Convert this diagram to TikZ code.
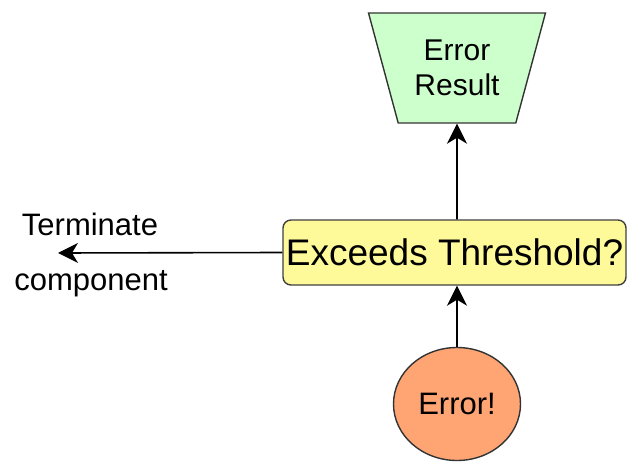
\documentclass[tikz,border=0pt]{standalone}
\usepackage{fontspec}
\setmainfont{Liberation Sans}
\usetikzlibrary{shapes.geometric,arrows.meta}

\tikzset{
  seta/.style={-{Stealth[length=20pt,width=20pt,inset=6pt]}, line width=1.6pt},
  resultado/.style={trapezium, draw=black!80, line width=1.4pt, fill=green!20,
    trapezium stretches=true, shape border rotate=180,
    trapezium left angle=69, trapezium right angle=69,
    minimum width=177pt, minimum height=110pt, align=center,
    font=\fontsize{30}{35}\selectfont, inner sep=0pt},
  decisao/.style={rectangle, rounded corners=8pt, draw=black!75, line width=1.4pt,
    fill=yellow!40, minimum width=343pt, minimum height=65pt,
    font=\fontsize{37}{40}\selectfont, inner sep=0pt},
  erro/.style={ellipse, draw=black!80, line width=1.4pt, fill=orange!70!red!55!white,
    minimum width=127pt, minimum height=113pt, font=\fontsize{31}{34}\selectfont, inner sep=0pt},
  rotulo/.style={font=\fontsize{31}{34}\selectfont, inner sep=0pt, anchor=base}
}

\begin{document}
\begin{tikzpicture}[x=1pt, y=-1pt]
  \useasboundingbox (0,0) rectangle (628,462);
  % Nós
  \node[resultado] (res) at (457,68) {Error\\Result};
  \node[decisao] (dec) at (454.5,252.5) {Exceeds Threshold?};
  \node[erro] (err) at (457,404) {Error!};
  \coordinate (stop) at (58,253);
  \node[rotulo] (termA) at (90,235) {Terminate};
  \node[rotulo] (termB) at (91,290) {component};

  % Arestas
  \draw[seta] (err) -- (err |- dec.south);
  \draw[seta] (err |- dec.north) -- (res);
  \draw[seta] (dec.west) -- (stop);
\end{tikzpicture}
\end{document}
